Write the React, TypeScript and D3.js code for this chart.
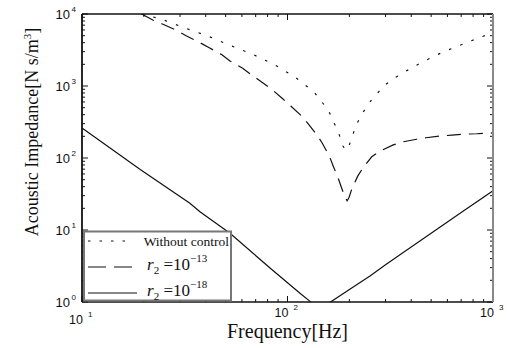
import React from "react";
import * as d3 from "d3";

// Without control (dotted)
const noCtrlFreq = [19.5, 24.2, 31.4, 40.9, 53.1, 68.7, 86.9, 108.7, 134.6, 147.2, 159.2, 168.4, 178.1, 186.2, 192, 198.5, 207.6, 217.1, 232.2, 249.3, 271.7, 298, 333.5, 373, 420.5, 472, 532, 600, 676, 764, 864, 1000];
const noCtrlZ = [10000, 8530, 6450, 4950, 3630, 2700, 1960, 1333, 826, 600, 440, 309, 215, 147, 128, 143, 208, 297, 422, 581, 774, 1033, 1303, 1580, 1914, 2275, 2700, 3130, 3590, 4120, 4745, 5450];

// r2 = 1e-13 (dashed)
const r13Freq = [19.5, 22.1, 24.6, 28.7, 32.1, 37.2, 41.2, 47.6, 52.5, 60.5, 67, 76.3, 83.8, 95.4, 103.7, 117.2, 126.2, 140.3, 147.7, 159.7, 167, 176.6, 183.6, 190, 195, 199, 205.3, 219.6, 233.7, 257, 282, 327, 366, 425, 472, 556, 630, 745, 833, 1000];
const r13Z = [10000, 8260, 7270, 5990, 5000, 4050, 3450, 2750, 2225, 1762, 1422, 1090, 900, 653, 527, 383, 297, 202, 160, 107, 77, 52, 38, 29, 25.5, 28, 36.7, 56, 74, 104, 125, 152, 168, 182, 191, 202, 208, 215, 217, 223];

// r2 = 1e-18 (solid)
const r18Freq = [10, 19.2, 33.5, 37.5, 52.5, 82.2, 115, 128.7, 145, 162, 201, 252, 300, 500, 700, 1000];
const r18Z = [261, 69, 23.5, 17.9, 9.0, 2.97, 1.32, 1.02, 0.7, 1.0, 1.5, 2.3, 3.3, 9.0, 17.5, 35.2];

const xTickExps = [1, 2, 3];
const yTickExps = [0, 1, 2, 3, 4];

const W = 518;
const H = 348;
const margin = { top: 14, right: 25, bottom: 46, left: 82 };

const serif = "'Liberation Serif', 'Times New Roman', serif";
const sans = "'Liberation Sans', Arial, sans-serif";

export default function App() {
  const x = d3.scaleLog().domain([10, 1000]).range([margin.left, W - margin.right]);
  const y = d3.scaleLog().domain([1, 1e4]).range([H - margin.bottom, margin.top]);
  const x0 = margin.left, x1 = W - margin.right, y0 = H - margin.bottom, y1 = margin.top;

  const line = d3.line<[number, number]>().x(d => x(d[0])).y(d => y(d[1]));
  const zip = (f: number[], z: number[]) => f.map((v, i) => [v, z[i]] as [number, number]);

  const isMajor = (v: number) => Math.abs(Math.log10(v) - Math.round(Math.log10(v))) < 1e-9;

  return (
    <div style={{ position: "fixed", left: 0, top: 0 }}>
      <svg width={W} height={H} style={{ display: "block", background: "#fff" }}>
        <defs>
          <clipPath id="plot">
            <rect x={x0} y={y1} width={x1 - x0} height={y0 - y1} />
          </clipPath>
        </defs>

        <g clipPath="url(#plot)" fill="none" stroke="#111" strokeWidth={1.2}>
          <path d={line(zip(noCtrlFreq, noCtrlZ)) || ""} strokeDasharray="2.5,9.5" />
          <path d={line(zip(r13Freq, r13Z)) || ""} strokeDasharray="14,8" />
          <path d={line(zip(r18Freq, r18Z)) || ""} />
        </g>

        {/* ticks */}
        <g stroke="#111" strokeWidth={1}>
          {x.ticks().map(t => {
            const len = isMajor(t) ? 6 : 3;
            return (
              <g key={"xt" + t}>
                <line x1={x(t)} x2={x(t)} y1={y0} y2={y0 - len} />
                <line x1={x(t)} x2={x(t)} y1={y1} y2={y1 + len} />
              </g>
            );
          })}
          {y.ticks().map(t => {
            const len = isMajor(t) ? 6 : 3;
            return (
              <g key={"yt" + t}>
                <line x1={x0} x2={x0 + len} y1={y(t)} y2={y(t)} />
                <line x1={x1} x2={x1 - len} y1={y(t)} y2={y(t)} />
              </g>
            );
          })}
        </g>

        {/* frame */}
        <line x1={x0} x2={x1} y1={y1} y2={y1} stroke="#111" strokeWidth={1.5} />
        <line x1={x0} x2={x1} y1={y0} y2={y0} stroke="#111" strokeWidth={1.5} />
        <line x1={x0} x2={x0} y1={y1} y2={y0} stroke="#111" strokeWidth={1.8} />
        <line x1={x1} x2={x1} y1={y1} y2={y0} stroke="#888" strokeWidth={2} />

        {/* tick labels */}
        <g fontFamily={sans} fill="#111">
          {yTickExps.map(e => (
            <g key={"yl" + e}>
              <text x={x0 - 12} y={y(Math.pow(10, e)) + 5} fontSize={13} textAnchor="end">10</text>
              <text x={x0 - 6} y={y(Math.pow(10, e)) - 2} fontSize={8} textAnchor="end">{e}</text>
            </g>
          ))}
          {xTickExps.map(e => (
            <g key={"xl" + e}>
              <text x={x(Math.pow(10, e)) + 1} y={e === 1 ? 324 : 317} fontSize={12.5} textAnchor="end">10</text>
              <text x={x(Math.pow(10, e)) + 6} y={e === 1 ? 317 : 310} fontSize={8}>{e}</text>
            </g>
          ))}
        </g>

        {/* axis titles */}
        <text x={(x0 + x1) / 2} y={338} fontFamily={serif} fontSize={20} textAnchor="middle" fill="#111">
          Frequency[Hz]
        </text>
        <text transform={`translate(38,${(y0 + y1) / 2 - 26}) rotate(-90)`} fontFamily={serif} fontSize={18} textAnchor="middle" fill="#111">
          Acoustic Impedance[N s/m<tspan dy={-7} fontSize={11}>3</tspan><tspan dy={7}>]</tspan>
        </text>

        {/* legend */}
        <g>
          <rect x={84} y={231.5} width={147} height={69} fill="#fff" stroke="#777" strokeWidth={2} />
          <line x1={88} x2={130} y1={241} y2={241} stroke="#111" strokeWidth={1.2} strokeDasharray="2.5,9" />
          <text x={229} y={246} fontFamily={serif} fontSize={13.5} textAnchor="end" fill="#111">Without control</text>
          <line x1={88} x2={132} y1={267} y2={267} stroke="#111" strokeWidth={1.2} strokeDasharray="18,8" />
          <text x={147} y={270} fontFamily={serif} fontSize={17} fill="#111">
            <tspan fontStyle="italic">r</tspan>
            <tspan dy={4} fontSize={11}>2</tspan>
            <tspan dy={-4}> =10</tspan>
            <tspan dy={-8} fontSize={11}>−13</tspan>
          </text>
          <line x1={88} x2={137} y1={293} y2={293} stroke="#111" strokeWidth={1.2} />
          <text x={147} y={296} fontFamily={serif} fontSize={17} fill="#111">
            <tspan fontStyle="italic">r</tspan>
            <tspan dy={4} fontSize={11}>2</tspan>
            <tspan dy={-4}> =10</tspan>
            <tspan dy={-8} fontSize={11}>−18</tspan>
          </text>
        </g>
      </svg>
    </div>
  );
}
